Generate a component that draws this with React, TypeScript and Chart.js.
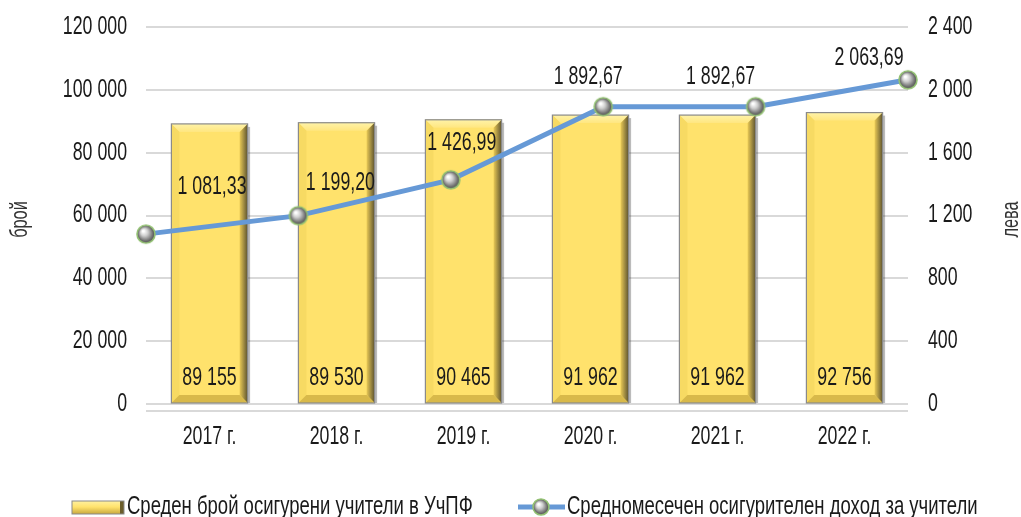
import React, { useEffect, useRef } from "react";
import { Chart, registerables } from "chart.js";
Chart.register(...registerables);

const categories = ["2017 г.", "2018 г.", "2019 г.", "2020 г.", "2021 г.", "2022 г."];
const teachers = [89155, 89530, 90465, 91962, 91962, 92756];
const income = [1081.33, 1199.2, 1426.99, 1892.67, 1892.67, 2063.69];
const barSeriesName = "Среден брой осигурени учители в УчПФ";
const lineSeriesName = "Средномесечен осигурителен доход за учители";
const leftTitle = "брой";
const rightTitle = "лева";

// label placement offsets relative to each point (style only)
const lineLabelDx = [66, 42, 11, -15, -35, -39];
const lineLabelDy = [-47, -33, -37, -30, -30, -22];

const FAMILY = "'Liberation Sans', Arial, sans-serif";
const TEXT = "#1a1a1a";
const SX = 0.71;

const fmt = (v: number, dec: number) => {
  const s = v.toFixed(dec);
  const [i, d] = s.split(".");
  const ii = i.replace(/\B(?=(\d{3})+(?!\d))/g, " ");
  return d ? ii + "," + d : ii;
};

function txt(
  ctx: CanvasRenderingContext2D,
  s: string,
  x: number,
  y: number,
  align: "left" | "right" | "center",
  size: number,
  color: string,
  sx = SX
) {
  ctx.save();
  ctx.font = `${size}px ${FAMILY}`;
  ctx.fillStyle = color;
  ctx.textBaseline = "middle";
  ctx.textAlign = "left";
  const w = ctx.measureText(s).width * sx;
  const lx = align === "left" ? x : align === "right" ? x - w : x - w / 2;
  ctx.translate(lx, y);
  ctx.scale(sx, 1);
  ctx.fillText(s, 0, 0);
  ctx.restore();
}

function makeSphere(r: number) {
  const c = document.createElement("canvas");
  const size = r * 2 + 4;
  c.width = size;
  c.height = size;
  const g = c.getContext("2d")!;
  const cx = size / 2;
  const grad = g.createRadialGradient(cx - r * 0.3, cx - r * 0.35, r * 0.1, cx, cx, r);
  grad.addColorStop(0, "#ffffff");
  grad.addColorStop(0.35, "#cfcfcf");
  grad.addColorStop(0.8, "#6f6f6f");
  grad.addColorStop(1, "#4d4d4d");
  g.beginPath();
  g.arc(cx, cx, r, 0, Math.PI * 2);
  g.fillStyle = grad;
  g.fill();
  g.lineWidth = 1.6;
  g.strokeStyle = "#93c173";
  g.stroke();
  return c;
}

function drawBevelBar(ctx: CanvasRenderingContext2D, left: number, top: number, right: number, bottom: number) {
  const b = 8;
  ctx.save();
  ctx.fillStyle = "rgba(60,60,60,0.35)";
  ctx.fillRect(right, top + 3, 2.5, bottom - top - 3);
  ctx.fillStyle = "#FFE26C";
  ctx.fillRect(left, top, right - left, bottom - top);
  const poly = (pts: number[][], fill: string | CanvasGradient) => {
    ctx.beginPath();
    ctx.moveTo(pts[0][0], pts[0][1]);
    for (let i = 1; i < pts.length; i++) ctx.lineTo(pts[i][0], pts[i][1]);
    ctx.closePath();
    ctx.fillStyle = fill;
    ctx.fill();
  };
  const tg = ctx.createLinearGradient(0, top, 0, top + b);
  tg.addColorStop(0, "#FFF3A8");
  tg.addColorStop(1, "#FFE680");
  poly([[left, top], [right, top], [right - b, top + b], [left + b, top + b]], tg);
  poly([[left, top], [left + b, top + b], [left + b, bottom - b], [left, bottom]], "#F7DA63");
  const rg = ctx.createLinearGradient(right - b, 0, right, 0);
  rg.addColorStop(0, "#E9C955");
  rg.addColorStop(1, "#5e5430");
  poly([[right, top], [right - b, top + b], [right - b, bottom - b], [right, bottom]], rg);
  poly([[left, bottom], [left + b, bottom - b], [right - b, bottom - b], [right, bottom]], "#D8B94A");
  ctx.strokeStyle = "#8a8a8a";
  ctx.lineWidth = 1.2;
  ctx.strokeRect(left, top, right - left, bottom - top);
  ctx.restore();
}

const decorPlugin = {
  id: "decor",
  beforeDatasetsDraw(chart: any) {
    const { ctx, chartArea, scales } = chart;
    ctx.save();
    ctx.strokeStyle = "#d9d9d9";
    ctx.lineWidth = 2;
    ctx.beginPath();
    ctx.moveTo(chartArea.left, chartArea.bottom + 7);
    ctx.lineTo(chartArea.right, chartArea.bottom + 7);
    ctx.stroke();
    ctx.restore();
    const y = scales.y;
    y.ticks.forEach((t: any) => {
      txt(ctx, fmt(t.value, 0), chartArea.left - 19, y.getPixelForValue(t.value), "right", 25, TEXT);
    });
    const y1 = scales.y1;
    y1.ticks.forEach((t: any) => {
      txt(ctx, fmt(t.value, 0), chartArea.right + 20, y1.getPixelForValue(t.value), "left", 25, TEXT);
    });
    const x = scales.x;
    categories.forEach((c, i) => {
      txt(ctx, c, x.getPixelForValue(i), chartArea.bottom + 33, "center", 25, TEXT);
    });
  },
  afterDatasetDraw(chart: any, args: any) {
    if (args.index !== 0) return;
    const { ctx } = chart;
    const meta = chart.getDatasetMeta(0);
    meta.data.forEach((el: any, i: number) => {
      const p = el.getProps(["x", "y", "base", "width"], true);
      drawBevelBar(ctx, p.x - p.width / 2, p.y, p.x + p.width / 2, p.base);
      txt(ctx, fmt(teachers[i], 0), p.x, p.base - 25, "center", 25, TEXT);
    });
  },
  afterDraw(chart: any) {
    const { ctx, chartArea } = chart;
    const meta = chart.getDatasetMeta(1);
    meta.data.forEach((el: any, i: number) => {
      txt(ctx, fmt(income[i], 2), el.x + lineLabelDx[i], el.y + lineLabelDy[i], "center", 25, TEXT);
    });
    const midY = (chartArea.top + chartArea.bottom) / 2 + 4;
    ctx.save();
    ctx.translate(21, midY);
    ctx.rotate(-Math.PI / 2);
    txt(ctx, leftTitle, 0, 0, "center", 23, "#333333");
    ctx.restore();
    ctx.save();
    ctx.translate(1012, midY);
    ctx.rotate(-Math.PI / 2);
    txt(ctx, rightTitle, 0, 0, "center", 23, "#333333");
    ctx.restore();
    ctx.save();
    const ly = 507;
    const bg = ctx.createLinearGradient(0, ly - 7, 0, ly + 7);
    bg.addColorStop(0, "#FFF3A8");
    bg.addColorStop(0.5, "#FFE26C");
    bg.addColorStop(1, "#C9A83E");
    ctx.fillStyle = bg;
    ctx.fillRect(72, ly - 6, 52, 13);
    ctx.fillStyle = "#6b5d2a";
    ctx.fillRect(120, ly - 6, 4, 13);
    ctx.strokeStyle = "#8a8a8a";
    ctx.lineWidth = 1;
    ctx.strokeRect(72, ly - 6, 52, 13);
    ctx.strokeStyle = "#6699D6";
    ctx.lineWidth = 5;
    ctx.beginPath();
    ctx.moveTo(518, ly);
    ctx.lineTo(565, ly);
    ctx.stroke();
    const sp = makeSphere(8);
    ctx.drawImage(sp, 541 - sp.width / 2, ly - sp.height / 2);
    ctx.restore();
    txt(ctx, barSeriesName, 127, ly, "left", 25, TEXT, 0.74);
    txt(ctx, lineSeriesName, 567, ly, "left", 25, TEXT, 0.74);
  },
};

export default function App() {
  const ref = useRef<HTMLCanvasElement | null>(null);
  useEffect(() => {
    if (!ref.current) return;
    const sphere = makeSphere(9);
    const chart = new Chart(ref.current, {
      type: "bar",
      data: {
        labels: categories,
        datasets: [
          {
            type: "bar",
            label: barSeriesName,
            data: teachers,
            yAxisID: "y",
            xAxisID: "x",
            backgroundColor: "#FFE26C",
            barPercentage: 0.6,
            categoryPercentage: 1,
            grouped: false,
            order: 1,
          },
          {
            type: "line",
            label: lineSeriesName,
            data: income,
            yAxisID: "y1",
            xAxisID: "x2",
            borderColor: "#6699D6",
            borderWidth: 5,
            pointStyle: sphere as any,
            pointRadius: 9,
            tension: 0,
            order: 0,
          },
        ] as any,
      },
      options: {
        animation: false,
        responsive: true,
        maintainAspectRatio: false,
        layout: { padding: { top: 27, left: 0, right: 0, bottom: 0 } },
        plugins: { legend: { display: false }, tooltip: { enabled: false } },
        scales: {
          x: {
            type: "category",
            offset: true,
            grid: { display: false },
            border: { display: false },
            ticks: { display: false },
            afterFit: (s: any) => {
              s.height = 113;
            },
          },
          x2: { type: "category", offset: false, display: false },
          y: {
            position: "left",
            min: 0,
            max: 120000,
            ticks: { stepSize: 20000, display: false },
            grid: { color: "#d9d9d9", lineWidth: 2, drawTicks: false },
            border: { display: false },
            afterFit: (s: any) => {
              s.width = 146;
            },
          },
          y1: {
            position: "right",
            min: 0,
            max: 2400,
            ticks: { stepSize: 400, display: false },
            grid: { drawOnChartArea: false, drawTicks: false },
            border: { display: false },
            afterFit: (s: any) => {
              s.width = 113;
            },
          },
        } as any,
      },
      plugins: [decorPlugin],
    });
    return () => chart.destroy();
  }, []);
  return (
    <div style={{ position: "fixed", left: 0, top: 0, width: 1021, height: 517, background: "#fff" }}>
      <canvas ref={ref} />
    </div>
  );
}
